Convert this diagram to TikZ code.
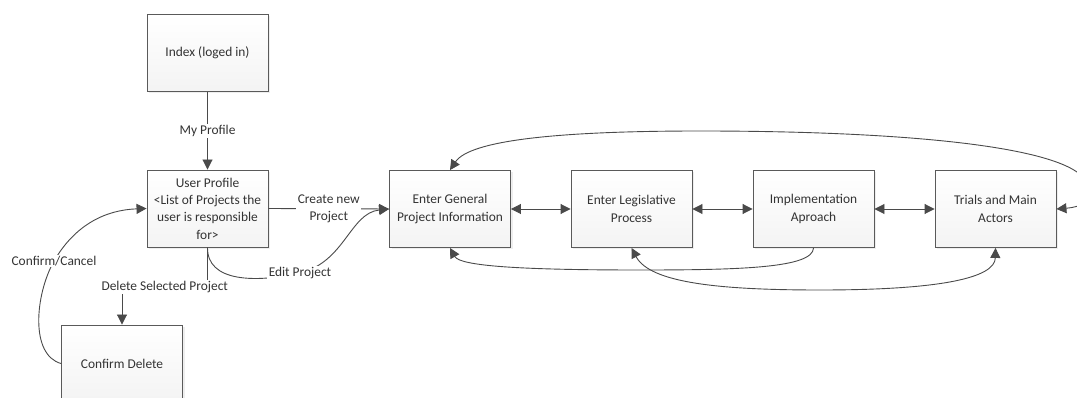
\documentclass[tikz,border=0pt]{standalone}
\usepackage{fontspec}
\setmainfont{Carlito}
\usetikzlibrary{arrows.meta,shadows}
\definecolor{linegray}{HTML}{4A4A4A}
\definecolor{boxgray}{HTML}{5A5A5A}
\definecolor{txtgray}{HTML}{333333}
\tikzset{
  page/.style={x=1pt,y=-1pt},
  box/.style={rectangle, draw=boxgray, line width=0.9pt,
    minimum width=121pt, minimum height=77pt, inner sep=2pt,
    top color=white, bottom color=gray!9,
    drop shadow={shadow xshift=2pt, shadow yshift=-2pt, fill=gray!25},
    align=center, text=txtgray,
    font=\fontsize{13.4}{17.3}\selectfont},
  lbl/.style={fill=white, inner sep=1.5pt, align=center, text=txtgray,
    font=\fontsize{13.4}{17.3}\selectfont},
  tipend/.tip={Triangle[length=10pt,width=10pt]},
  conn/.style={draw=linegray, line width=0.9pt},
  to/.style={conn, -tipend},
  both/.style={conn, tipend-tipend},
}
\begin{document}
\begin{tikzpicture}[page]
\useasboundingbox (0,0) rectangle (1077,398);
\fill[white] (0,0) rectangle (1077,398);
\clip (0,0) rectangle (1077,398);

% pages
\node[box] (idx) at (207.5,53) {Index (loged in)};
\node[box] (up)  at (207.5,208.5) {User Profile\\<List of Projects the\\user is responsible\\for>};
\node[box] (cd)  at (122,363.5) {Confirm Delete};
\node[box] (en)  at (450,209) {Enter General\\Project Information};
\node[box] (lg)  at (631.5,209) {Enter Legislative\\Process};
\node[box] (im)  at (813.5,209) {Implementation\\Aproach};
\node[box] (tr)  at (995.5,209) {Trials and Main\\Actors};

% navigation from the profile
\draw[to] (idx.south) -- node[lbl] {My Profile} (up.north);
\draw[to] (up.east) -- node[lbl] {Create new\\Project} (en.west);
\draw[to] (up.south) .. controls (207,282) and (255,283) .. (300,273)
  node[lbl] {Edit Project}
  .. controls (345,262) and (350,213) .. (en.west);
\draw[to] (up.south) -- (207.5,287) -| node[lbl, pos=0.25] {Delete Selected Project} (cd.north);
\draw[to] (cd.west) .. controls (30,355) and (35,295) .. (54,261)
  node[lbl] {Confirm/Cancel}
  .. controls (75,225) and (105,210) .. (up.west);

% wizard steps
\draw[both] (en.east) -- (lg.west);
\draw[both] (lg.east) -- (im.west);
\draw[both] (im.east) -- (tr.west);

% back links
\draw[both] (tr.east) .. controls (1095,206) and (1100,186) .. (1077,172)
  .. controls (1035,143) and (880,131) .. (700,131)
  .. controls (560,131) and (470,140) .. (en.north);
\draw[to] (im.south) .. controls (813,268) and (740,270) .. (640,270)
  .. controls (520,270) and (460,266) .. (en.south);
\draw[both] (lg.south) .. controls (650,283) and (720,290) .. (820,290)
  .. controls (940,290) and (995,278) .. (tr.south);
\end{tikzpicture}
\end{document}
